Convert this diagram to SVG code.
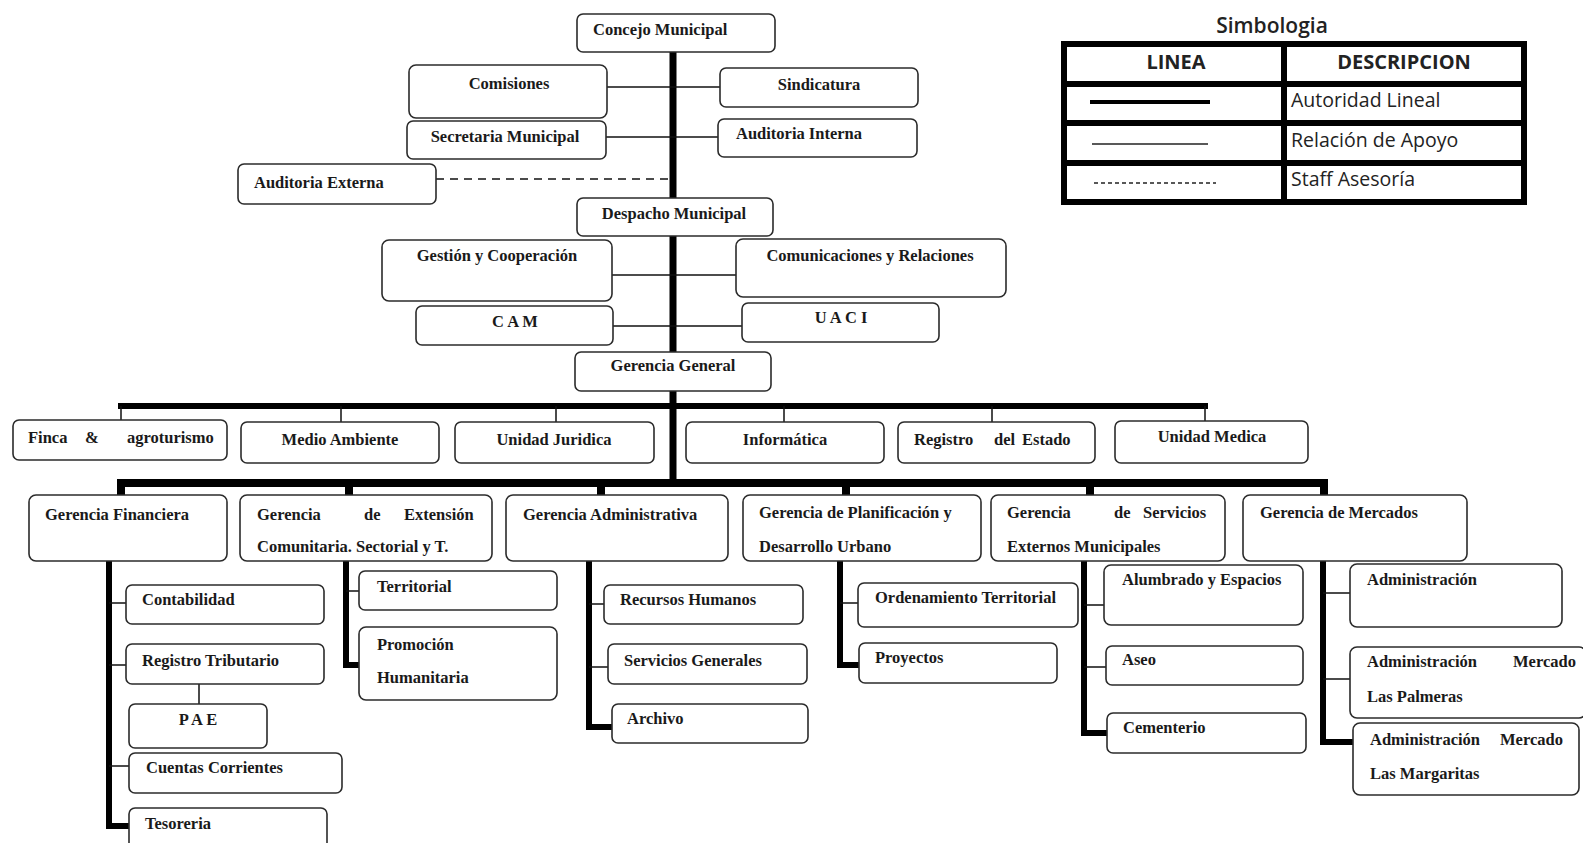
<svg xmlns="http://www.w3.org/2000/svg" width="1583" height="843" viewBox="0 0 1583 843">
<style>
.box{fill:#fff;stroke:#2b2b2b;stroke-width:1.6}
.t{font-family:"Liberation Serif",serif;font-weight:bold;font-size:16.5px;fill:#1a1a1a}
.c{text-anchor:middle}
.thick{stroke:#000;stroke-width:7;fill:none}
.sub{stroke:#000;stroke-width:6;fill:none}
.thin{stroke:#111;stroke-width:1.5;fill:none}
.dash{stroke:#111;stroke-width:1.6;stroke-dasharray:8 6;fill:none}
.lg{font-family:"Open Sans","Noto Sans",sans-serif;fill:#222}
.tb{stroke:#000;stroke-width:6;fill:none}
</style>
<rect width="1583" height="843" fill="#fff"/>
<g id="connectors">
<line class="thick" x1="673" y1="50" x2="673" y2="486"/>
<line class="thin" x1="607" y1="87" x2="720" y2="87"/>
<line class="thin" x1="606" y1="137" x2="718" y2="137"/>
<line class="dash" x1="436" y1="179" x2="670" y2="179"/>
<line class="thin" x1="612" y1="275" x2="736" y2="275"/>
<line class="thin" x1="613" y1="326" x2="742" y2="326"/>
<line x1="118" y1="406" x2="1208" y2="406" stroke="#000" stroke-width="6"/>
<path class="thin" d="M121,406V421M341,406V423M556,406V423M784,406V423M992,406V423M1205,406V421"/>
<path d="M121,496V483H1324V496" stroke="#000" stroke-width="8" fill="none"/>
<path d="M349,483V496M601,483V496M846,483V496M1090,483V496" stroke="#000" stroke-width="8" fill="none"/>
<path class="sub" d="M109,561V826H129"/>
<path class="thin" d="M109,603H126M109,665H126M109,766H129M199,684V704"/>
<path class="sub" d="M346,561V665H359"/>
<path class="thin" d="M346,591H359"/>
<path class="sub" d="M589,561V727H612"/>
<path class="thin" d="M589,604H604M589,667H608"/>
<path class="sub" d="M840,561V665H859"/>
<path class="thin" d="M840,603H858"/>
<path class="sub" d="M1084,561V733H1107"/>
<path class="thin" d="M1084,605H1104M1084,667H1106"/>
<path class="sub" d="M1323,561V742H1353"/>
<path class="thin" d="M1323,593H1350M1323,679H1350"/>
</g>
<g id="n-concejo"><rect class="box" x="577" y="14" width="198" height="38" rx="6"/><text class="t" x="593" y="35">Concejo Municipal</text></g>
<g id="n-comisiones"><rect class="box" x="409" y="65" width="198" height="53" rx="7"/><text class="t c" x="509" y="89">Comisiones</text></g>
<g id="n-sindicatura"><rect class="box" x="720" y="68" width="198" height="39" rx="6"/><text class="t c" x="819" y="90">Sindicatura</text></g>
<g id="n-secretaria"><rect class="box" x="407" y="121" width="199" height="38" rx="6"/><text class="t c" x="505" y="142">Secretaria Municipal</text></g>
<g id="n-audint"><rect class="box" x="718" y="119" width="199" height="38" rx="6"/><text class="t c" x="799" y="139">Auditoria Interna</text></g>
<g id="n-audext"><rect class="box" x="238" y="164" width="198" height="40" rx="6"/><text class="t" x="254" y="188">Auditoria Externa</text></g>
<g id="n-despacho"><rect class="box" x="577" y="198" width="196" height="38" rx="6"/><text class="t c" x="674" y="219">Despacho Municipal</text></g>
<g id="n-gestion"><rect class="box" x="382" y="240" width="230" height="61" rx="7"/><text class="t c" x="497" y="261">Gestión y Cooperación</text></g>
<g id="n-comunic"><rect class="box" x="736" y="239" width="270" height="58" rx="7"/><text class="t c" x="870" y="261">Comunicaciones y Relaciones</text></g>
<g id="n-cam"><rect class="box" x="416" y="306" width="197" height="39" rx="6"/><text class="t c" x="515" y="327">C A M</text></g>
<g id="n-uaci"><rect class="box" x="742" y="303" width="197" height="39" rx="6"/><text class="t c" x="841" y="323">U A C I</text></g>
<g id="n-gergen"><rect class="box" x="575" y="352" width="196" height="39" rx="6"/><text class="t c" x="673" y="371">Gerencia General</text></g>
<g id="n-finca"><rect class="box" x="13" y="420" width="214" height="40" rx="6"/><text class="t" y="443"><tspan x="28">Finca</tspan><tspan x="85">&amp;</tspan><tspan x="127">agroturismo</tspan></text></g>
<g id="n-medio"><rect class="box" x="241" y="422" width="198" height="41" rx="6"/><text class="t c" x="340" y="445">Medio Ambiente</text></g>
<g id="n-juridica"><rect class="box" x="455" y="422" width="199" height="41" rx="6"/><text class="t c" x="554" y="445">Unidad Juridica</text></g>
<g id="n-informatica"><rect class="box" x="686" y="422" width="198" height="41" rx="6"/><text class="t c" x="785" y="445">Informática</text></g>
<g id="n-registro"><rect class="box" x="898" y="422" width="197" height="41" rx="6"/><text class="t" y="445"><tspan x="914">Registro</tspan><tspan x="994">del</tspan><tspan x="1022">Estado</tspan></text></g>
<g id="n-medica"><rect class="box" x="1115" y="421" width="193" height="42" rx="6"/><text class="t c" x="1212" y="442">Unidad Medica</text></g>
<g id="n-gfin"><rect class="box" x="29" y="495" width="198" height="66" rx="7"/><text class="t" x="45" y="520">Gerencia Financiera</text></g>
<g id="n-gext"><rect class="box" x="240" y="495" width="252" height="66" rx="7"/><text class="t" y="520"><tspan x="257">Gerencia</tspan><tspan x="364">de</tspan><tspan x="404">Extensión</tspan></text><text class="t" x="257" y="552">Comunitaria. Sectorial y T.</text></g>
<g id="n-gadm"><rect class="box" x="506" y="495" width="222" height="66" rx="7"/><text class="t" x="523" y="520">Gerencia Administrativa</text></g>
<g id="n-gplan"><rect class="box" x="743" y="495" width="238" height="66" rx="7"/><text class="t" x="759" y="518">Gerencia de Planificación y</text><text class="t" x="759" y="552">Desarrollo Urbano</text></g>
<g id="n-gserv"><rect class="box" x="991" y="495" width="234" height="66" rx="7"/><text class="t" y="518"><tspan x="1007">Gerencia</tspan><tspan x="1114">de</tspan><tspan x="1143">Servicios</tspan></text><text class="t" x="1007" y="552">Externos Municipales</text></g>
<g id="n-gmerc"><rect class="box" x="1243" y="495" width="224" height="66" rx="7"/><text class="t" x="1260" y="518">Gerencia de Mercados</text></g>
<g id="n-contab"><rect class="box" x="126" y="585" width="198" height="39" rx="6"/><text class="t" x="142" y="605">Contabilidad</text></g>
<g id="n-regtrib"><rect class="box" x="126" y="644" width="198" height="40" rx="6"/><text class="t" x="142" y="666">Registro Tributario</text></g>
<g id="n-pae"><rect class="box" x="129" y="704" width="138" height="44" rx="6"/><text class="t c" x="198" y="725">P A E</text></g>
<g id="n-cuentas"><rect class="box" x="129" y="753" width="213" height="40" rx="6"/><text class="t" x="146" y="773">Cuentas Corrientes</text></g>
<g id="n-tesoreria"><rect class="box" x="129" y="808" width="198" height="45" rx="6"/><text class="t" x="145" y="829">Tesoreria</text></g>
<g id="n-territorial"><rect class="box" x="359" y="571" width="198" height="39" rx="6"/><text class="t" x="377" y="592">Territorial</text></g>
<g id="n-promocion"><rect class="box" x="359" y="627" width="198" height="73" rx="7"/><text class="t" x="377" y="650">Promoción</text><text class="t" x="377" y="683">Humanitaria</text></g>
<g id="n-rrhh"><rect class="box" x="604" y="585" width="199" height="39" rx="6"/><text class="t" x="620" y="605">Recursos Humanos</text></g>
<g id="n-servgen"><rect class="box" x="608" y="644" width="199" height="40" rx="6"/><text class="t" x="624" y="666">Servicios Generales</text></g>
<g id="n-archivo"><rect class="box" x="612" y="704" width="196" height="39" rx="6"/><text class="t" x="627" y="724">Archivo</text></g>
<g id="n-ordena"><rect class="box" x="858" y="583" width="220" height="44" rx="6"/><text class="t" x="875" y="603">Ordenamiento Territorial</text></g>
<g id="n-proyectos"><rect class="box" x="859" y="643" width="198" height="40" rx="6"/><text class="t" x="875" y="663">Proyectos</text></g>
<g id="n-alumbrado"><rect class="box" x="1104" y="565" width="199" height="60" rx="7"/><text class="t" x="1122" y="585">Alumbrado y Espacios</text></g>
<g id="n-aseo"><rect class="box" x="1106" y="646" width="197" height="39" rx="6"/><text class="t" x="1122" y="665">Aseo</text></g>
<g id="n-cementerio"><rect class="box" x="1107" y="713" width="199" height="40" rx="6"/><text class="t" x="1123" y="733">Cementerio</text></g>
<g id="n-admin"><rect class="box" x="1350" y="564" width="212" height="63" rx="7"/><text class="t" x="1367" y="585">Administración</text></g>
<g id="n-palmeras"><rect class="box" x="1350" y="647" width="236" height="71" rx="7"/><text class="t" y="667"><tspan x="1367">Administración</tspan><tspan x="1513">Mercado</tspan></text><text class="t" x="1367" y="702">Las  Palmeras</text></g>
<g id="n-margaritas"><rect class="box" x="1353" y="723" width="226" height="72" rx="7"/><text class="t" y="745"><tspan x="1370">Administración</tspan><tspan x="1500">Mercado</tspan></text><text class="t" x="1370" y="779">Las Margaritas</text></g>
<g id="legend">
<text class="lg" x="1272" y="33" font-size="21" font-weight="600" text-anchor="middle">Simbologia</text>
<rect class="tb" x="1064" y="44" width="460" height="158"/>
<line class="tb" x1="1284" y1="44" x2="1284" y2="202"/>
<line class="tb" x1="1064" y1="84" x2="1524" y2="84"/>
<line class="tb" x1="1064" y1="123" x2="1524" y2="123"/>
<line class="tb" x1="1064" y1="163" x2="1524" y2="163"/>
<text class="lg" x="1176" y="69" font-size="20" font-weight="bold" text-anchor="middle">LINEA</text>
<text class="lg" x="1404" y="69" font-size="20" font-weight="bold" text-anchor="middle">DESCRIPCION</text>
<line x1="1090" y1="102" x2="1210" y2="102" stroke="#000" stroke-width="4"/>
<line x1="1092" y1="144" x2="1208" y2="144" stroke="#222" stroke-width="1.5"/>
<line x1="1094" y1="183" x2="1216" y2="183" stroke="#222" stroke-width="1.3" stroke-dasharray="4 3"/>
<text class="lg" x="1291" y="107" font-size="19.5">Autoridad Lineal</text>
<text class="lg" x="1291" y="147" font-size="19.5">Relación de Apoyo</text>
<text class="lg" x="1291" y="186" font-size="19.5">Staff Asesoría</text>
</g>
</svg>
